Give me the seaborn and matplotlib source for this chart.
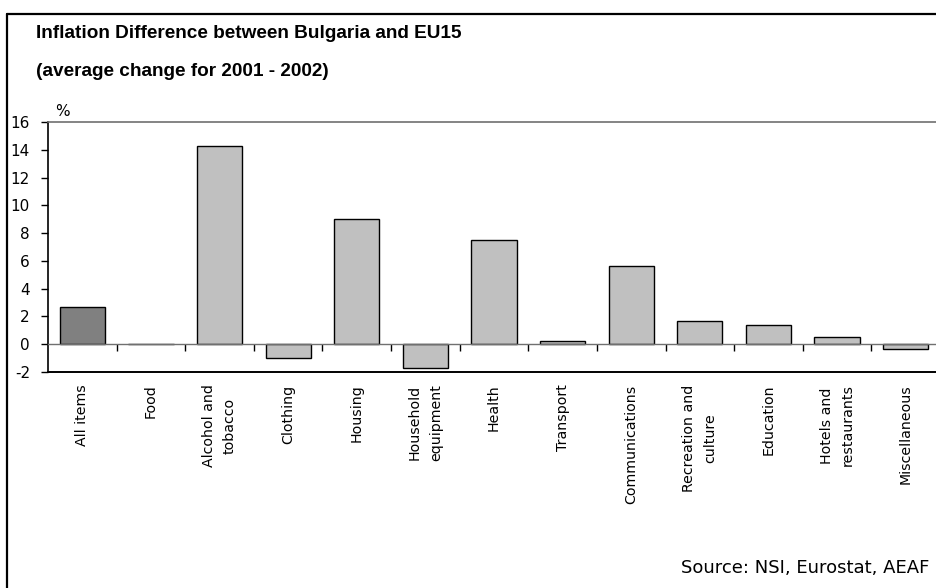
import matplotlib
matplotlib.use("Agg")
import matplotlib.pyplot as plt
from matplotlib.lines import Line2D
import seaborn as sns
import pandas as pd

# Inflation difference by CPI component (percentage points)
categories = [
    "All items", "Food", "Alcohol and\ntobacco", "Clothing", "Housing",
    "Household\nequipment", "Health", "Transport", "Communications",
    "Recreation and\nculture", "Education", "Hotels and\nrestaurants",
    "Miscellaneous",
]
values = [2.7, 0.0, 14.3, -1.0, 9.05, -1.7, 7.5, 0.2, 5.6, 1.7, 1.4, 0.5, -0.35]
y_ticks = [-2, 0, 2, 4, 6, 8, 10, 12, 14, 16]

title_lines = ["Inflation Difference between Bulgaria and EU15",
               "(average change for 2001 - 2002)"]
source_note = "Source: NSI, Eurostat, AEAF"

df = pd.DataFrame({"category": categories, "value": values})
colors = {c: ("#808080" if c == "All items" else "#C0C0C0") for c in categories}

sns.set_theme(style="white")
plt.rcParams["font.family"] = ["DejaVu Sans"]
plt.rcParams["text.color"] = "black"
plt.rcParams["xtick.color"] = "black"
plt.rcParams["ytick.color"] = "black"

W, H = 936, 588
fig = plt.figure(figsize=(W / 100, H / 100), dpi=100)
fig.patch.set_facecolor("white")

# plot area in pixel terms (extends slightly past the right edge)
left, right, top, bottom = 48, 940, 122, 372
ax = fig.add_axes([left / W, 1 - bottom / H, (right - left) / W, (bottom - top) / H])

sns.barplot(data=df, x="category", y="value", hue="category", palette=colors,
            legend=False, width=0.66, edgecolor="black", linewidth=1.0,
            saturation=1, ax=ax)

ax.set_xlim(-0.5, len(categories) - 0.5)
ax.set_ylim(-2, 16)
ax.set_yticks(y_ticks)
ax.set_yticklabels([str(t) for t in y_ticks], fontsize=11, color="black")
ax.set_xlabel("")
ax.set_ylabel("")

# category axis sits on the zero line
ax.spines["bottom"].set_position(("data", 0))
ax.spines["bottom"].set_color("#707070")
ax.spines["bottom"].set_linewidth(1.0)
ax.spines["left"].set_color("black")
ax.spines["left"].set_linewidth(1.2)
ax.spines["top"].set_color("#707070")
ax.spines["top"].set_linewidth(1.2)
ax.spines["right"].set_visible(False)

ax.set_xticks([i + 0.5 for i in range(len(categories) - 1)], minor=True)
ax.tick_params(axis="x", which="minor", direction="out", length=5, width=1,
               color="black", bottom=True)
ax.tick_params(axis="x", which="major", length=0, pad=29)
ax.set_xticks(range(len(categories)))
ax.set_xticklabels(categories, rotation=90, fontsize=10.2, ha="center", va="top",
                   multialignment="center", linespacing=1.65, color="black")
ax.tick_params(axis="y", direction="out", length=5, width=1, color="black",
               left=True, pad=8)

# lower border of the plot area
ax.axhline(-2, color="black", lw=1.4, clip_on=False)

# unit label
fig.text(55 / W, 1 - 112 / H, "%", fontsize=11, ha="left", va="center")

# titles
title_font = dict(family=["Liberation Sans", "DejaVu Sans"], fontsize=13.7,
                  fontweight="bold", ha="left", va="center")
fig.text(36 / W, 1 - 34 / H, title_lines[0], **title_font)
fig.text(36 / W, 1 - 72 / H, title_lines[1], **title_font)

# source note
fig.text(929 / W, 1 - 568 / H, source_note, fontsize=13, ha="right", va="center")

# outer frame (top and left edges)
fig.add_artist(Line2D([6.5 / W, 6.5 / W], [0, 1 - 13.5 / H], color="black",
                      lw=1.6, transform=fig.transFigure))
fig.add_artist(Line2D([6.5 / W, 1], [1 - 13.5 / H, 1 - 13.5 / H], color="black",
                      lw=1.6, transform=fig.transFigure))

fig.savefig("out.png", dpi=100)
